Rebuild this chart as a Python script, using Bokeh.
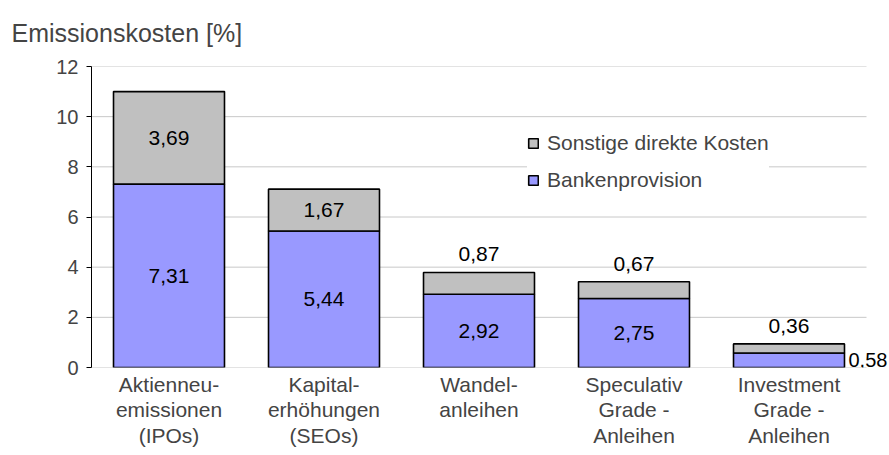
from bokeh.plotting import figure
from bokeh.models import ColumnDataSource, LabelSet, Legend, LegendItem, FixedTicker, Range1d
from bokeh.core.properties import value
from bokeh.embed import file_html
from bokeh.resources import INLINE

categories = ["Aktienneu-\nemissionen\n(IPOs)", "Kapital-\nerhöhungen\n(SEOs)", "Wandel-\nanleihen",
              "Speculativ\nGrade -\nAnleihen", "Investment\nGrade -\nAnleihen"]
bankenprovision = [7.31, 5.44, 2.92, 2.75, 0.58]
sonstige = [3.69, 1.67, 0.87, 0.67, 0.36]
y_ticks = [0, 2, 4, 6, 8, 10, 12]
series_names = ["Bankenprovision", "Sonstige direkte Kosten"]
title_text = "Emissionskosten [%]"

BLUE = "#9999FF"
GRAY = "#C0C0C0"
GRID = "#C8C8C8"
FONT = "Liberation Sans"
BAR_W = 0.716

W, H = 889, 455
LEFT, TOP, BOTTOM = 91, 66, 88
PX_PER_CAT = 155.0

def fmt(v):
    return f"{v:.2f}".replace(".", ",")

n = len(categories)
xs = list(range(n))
src = ColumnDataSource(dict(x=xs, bank=bankenprovision, sonst=sonstige))

x_end = -0.5 + (W - LEFT) / PX_PER_CAT
p = figure(x_range=Range1d(-0.5, x_end), y_range=Range1d(0, 12),
           width=W, height=H, output_backend="svg", toolbar_location=None,
           min_border_left=LEFT, min_border_right=0, min_border_top=TOP, min_border_bottom=BOTTOM)
p.outline_line_color = None

p.title.text = title_text
p.title.align = "left"
p.title.vertical_align = "top"
p.title.offset = 11 - LEFT
p.title.text_font = FONT
p.title.text_font_size = "25px"
p.title.text_font_style = "normal"
p.title.standoff = 35

# grid lines limited to the category area
p.xgrid.visible = False
p.ygrid.visible = False
p.segment(x0=-0.5, x1=n - 0.5, y0=y_ticks, y1=y_ticks, line_color=GRID, line_width=1)

rs = p.vbar_stack(["bank", "sonst"], x="x", width=BAR_W, source=src,
                  fill_color=[BLUE, GRAY], line_color="black", line_width=1.6)

p.yaxis.ticker = FixedTicker(ticks=y_ticks)
p.yaxis.major_tick_out = 5
p.yaxis.major_tick_in = 0
p.yaxis.minor_tick_line_color = None
p.yaxis.axis_line_color = "black"
p.yaxis.major_tick_line_color = "black"
p.yaxis.major_label_text_font = FONT
p.yaxis.major_label_text_font_size = "20px"
p.yaxis.major_label_standoff = 8

p.xaxis.ticker = FixedTicker(ticks=xs)
p.xaxis.major_label_overrides = {i: c for i, c in zip(xs, categories)}
p.xaxis.axis_line_color = None
p.xaxis.major_tick_line_color = None
p.xaxis.major_tick_out = 0
p.xaxis.major_tick_in = 0
p.xaxis.minor_tick_line_color = None
p.xaxis.major_label_text_font = FONT
p.xaxis.major_label_text_font_size = "21px"
p.xaxis.major_label_standoff = 5
p.xaxis.major_label_text_line_height = 1.11

# value labels
in_b = dict(x=[], y=[], t=[])
out_b = dict(x=[], y=[], t=[])
in_s = dict(x=[], y=[], t=[])
out_s = dict(x=[], y=[], t=[])
for x, b, s in zip(xs, bankenprovision, sonstige):
    if b > 1:
        in_b["x"].append(x); in_b["y"].append(b / 2); in_b["t"].append(fmt(b))
    else:
        out_b["x"].append(x + BAR_W / 2); out_b["y"].append(b / 2); out_b["t"].append(fmt(b))
    if s > 1:
        in_s["x"].append(x); in_s["y"].append(b + s / 2); in_s["t"].append(fmt(s))
    else:
        out_s["x"].append(x); out_s["y"].append(b + s); out_s["t"].append(fmt(s))

common = dict(text_font=value(FONT), text_color="black")
p.add_layout(LabelSet(x="x", y="y", text="t", source=ColumnDataSource(in_b), text_font_size="21px",
                      text_align="center", text_baseline="middle", **common))
p.add_layout(LabelSet(x="x", y="y", text="t", source=ColumnDataSource(in_s), text_font_size="21px",
                      text_align="center", text_baseline="middle", **common))
p.add_layout(LabelSet(x="x", y="y", text="t", source=ColumnDataSource(out_s), text_font_size="21px",
                      text_align="center", text_baseline="bottom", y_offset=11, **common))
p.add_layout(LabelSet(x="x", y="y", text="t", source=ColumnDataSource(out_b), text_font_size="20px",
                      text_align="left", text_baseline="middle", x_offset=4, **common))

legend = Legend(items=[LegendItem(label=series_names[1], renderers=[rs[1]]),
                       LegendItem(label=series_names[0], renderers=[rs[0]])],
                location=(436, 175), background_fill_color="white", background_fill_alpha=1,
                border_line_color=None, label_text_font=FONT, label_text_font_size="21px",
                glyph_width=12, glyph_height=12, label_height=20, spacing=13, padding=8,
                label_standoff=8, margin=0)
p.add_layout(legend)

open("out.html", "w").write(file_html(p, INLINE))
